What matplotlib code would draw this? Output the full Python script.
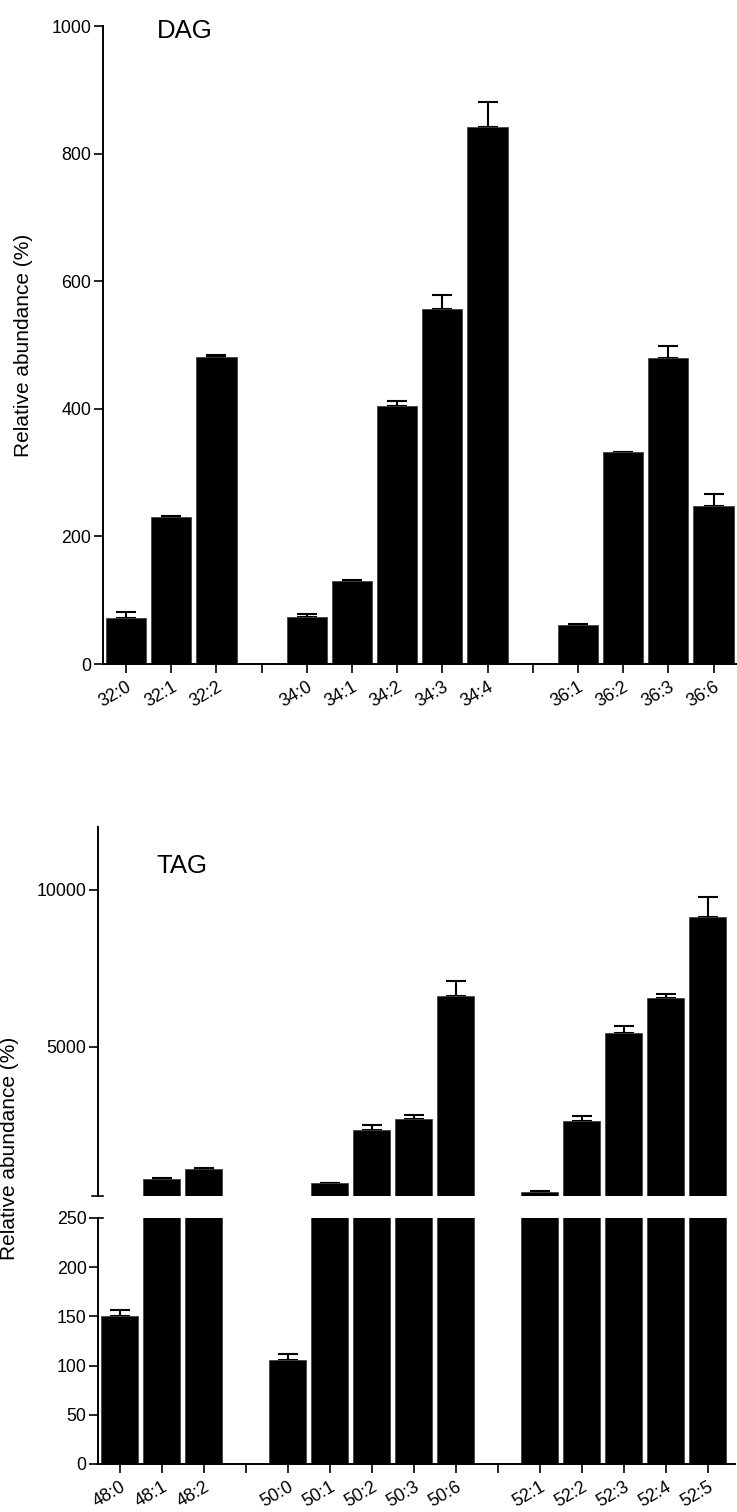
import numpy as np
import matplotlib
matplotlib.use('Agg')
import matplotlib.pyplot as plt

plt.rcParams['font.family'] = ['Liberation Sans', 'DejaVu Sans']

# DAG species, mean relative abundance (%) and upper error
dag_groups = [['32:0', '32:1', '32:2'],
              ['34:0', '34:1', '34:2', '34:3', '34:4'],
              ['36:1', '36:2', '36:3', '36:6']]
dag_means = [72, 230, 481, 73, 130, 405, 557, 841, 62, 332, 479, 248]
dag_err = [10, 2, 4, 6, 2, 7, 22, 40, 1.5, 1, 20, 18]

# TAG species
tag_groups = [['48:0', '48:1', '48:2'],
              ['50:0', '50:1', '50:2', '50:3', '50:6'],
              ['52:1', '52:2', '52:3', '52:4', '52:5']]
tag_means = [150, 790, 1105, 106, 660, 2355, 2700, 6625, 372, 2630, 5445, 6540, 9150]
tag_err = [7, 20, 45, 6, 15, 145, 145, 460, 28, 170, 230, 140, 630]

TICK_FS = 12.8
BAR_W = 0.89


def layout(groups):
    # one empty slot between groups
    pos, ticks, labels = [], [], []
    x = 0
    for gi, g in enumerate(groups):
        if gi > 0:
            ticks.append(x)
            labels.append('')
            x += 1
        for name in g:
            pos.append(x)
            ticks.append(x)
            labels.append(name)
            x += 1
    return np.array(pos), ticks, labels


def style(ax, bottom=True):
    for s in ['top', 'right']:
        ax.spines[s].set_visible(False)
    ax.spines['left'].set_linewidth(1.4)
    ax.spines['bottom'].set_linewidth(1.4)
    ax.tick_params(axis='both', direction='out', length=6.5, width=1.2,
                   labelsize=TICK_FS, pad=2)
    ax.tick_params(axis='x', pad=4)
    if not bottom:
        ax.spines['bottom'].set_visible(False)
        ax.tick_params(axis='x', bottom=False, labelbottom=False)


def bars(ax, pos, means, err):
    ax.bar(pos, means, width=BAR_W, color='black', edgecolor='#444444',
           linewidth=0.6, zorder=2)
    ax.errorbar(pos, means, yerr=[np.zeros(len(err)), err], fmt='none',
                ecolor='black', elinewidth=1.5, capsize=7.5, capthick=1.5,
                zorder=1)


def xlabels(ax, ticks, labels):
    ax.set_xticks(ticks)
    ax.set_xticklabels(labels, rotation=30, ha='right', va='top',
                       rotation_mode='anchor', fontsize=TICK_FS)


fig = plt.figure(figsize=(7.37, 15.12), dpi=100)

# ---- DAG panel ----
ax1 = fig.add_axes([0.1398, 0.5608, 0.8602, 0.4220])
pos, ticks, labels = layout(dag_groups)
bars(ax1, pos, dag_means, dag_err)
style(ax1)
ax1.set_xlim(-0.51, 13.52)
ax1.set_ylim(0, 1000)
ax1.set_yticks([0, 200, 400, 600, 800, 1000])
xlabels(ax1, ticks, labels)
ax1.text(0.085, 0.992, 'DAG', transform=ax1.transAxes, fontsize=18.5,
         ha='left', va='center')
fig.text(24 / 737, 1 - 345 / 1512, 'Relative abundance (%)', rotation=90,
         ha='center', va='center', fontsize=15)

# ---- TAG panel, broken y axis ----
pos, ticks, labels = layout(tag_groups)
ax_hi = fig.add_axes([0.1334, 0.2090, 0.8639, 0.2440])
ax_lo = fig.add_axes([0.1334, 0.03175, 0.8639, 0.1627])
for ax in (ax_hi, ax_lo):
    bars(ax, pos, tag_means, tag_err)
    ax.set_xlim(-0.51, 14.65)

style(ax_hi, bottom=False)
ax_hi.set_ylim(250, 12000)
ax_hi.set_yticks([5000, 10000])
ax_hi.text(0.0917, 0.894, 'TAG', transform=ax_hi.transAxes, fontsize=18.5,
           ha='left', va='center')

style(ax_lo)
ax_lo.set_ylim(0, 250)
ax_lo.set_yticks([0, 50, 100, 150, 200, 250])
xlabels(ax_lo, ticks, labels)

# break marks across the left spine
ax_hi.plot([-0.0095, 0.008], [0, 0], transform=ax_hi.transAxes,
           color='black', lw=1.2, clip_on=False)
ax_lo.plot([0, 0.008], [1, 1], transform=ax_lo.transAxes,
           color='black', lw=1.2, clip_on=False)

fig.text(10 / 737, 1 - 1148 / 1512, 'Relative abundance (%)', rotation=90,
         ha='center', va='center', fontsize=15)

fig.savefig('out.png', dpi=100)
